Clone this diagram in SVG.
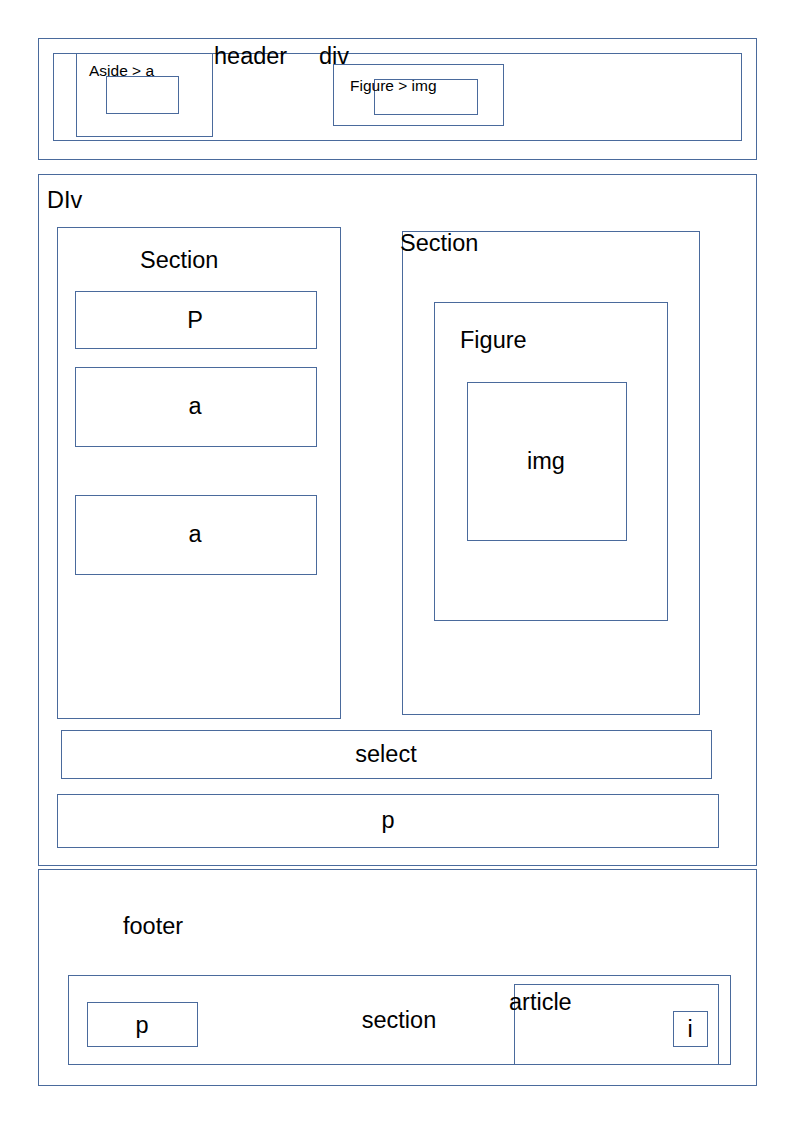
<svg xmlns="http://www.w3.org/2000/svg" width="794" height="1123" viewBox="0 0 794 1123">
<style>
rect{fill:none;stroke:#4a6a9c;stroke-width:1}
text{font-family:"Liberation Sans",Arial,sans-serif;fill:#000;font-size:23.5px}
.s{font-size:15.5px}
.m{text-anchor:middle}
</style>
<rect x="0" y="0" width="794" height="1123" fill="#fff" style="fill:#fff;stroke:none"/>
<g id="header">
<rect x="38.5" y="38.5" width="718" height="121"/>
<rect x="53.5" y="53.5" width="688" height="87"/>
<text x="214" y="64">header</text>
<text x="319" y="64">div</text>
</g>
<g id="aside">
<rect x="76.5" y="53.5" width="136" height="83"/>
<rect x="106.5" y="76.5" width="72" height="37"/>
<text class="s" x="89" y="76">Aside &gt; a</text>
</g>
<g id="header-figure">
<rect x="333.5" y="64.5" width="170" height="61"/>
<rect x="374.5" y="79.5" width="103" height="35"/>
<text class="s" x="350" y="91">Figure &gt; img</text>
</g>
<g id="div">
<rect x="38.5" y="174.5" width="718" height="691"/>
<text x="47" y="208">DIv</text>
</g>
<g id="section-left">
<rect x="57.5" y="227.5" width="283" height="491"/>
<text x="140" y="268">Section</text>
</g>
<g id="p1">
<rect x="75.5" y="291.5" width="241" height="57"/>
<text class="m" x="195" y="328">P</text>
</g>
<g id="a1">
<rect x="75.5" y="367.5" width="241" height="79"/>
<text class="m" x="195" y="414">a</text>
</g>
<g id="a2">
<rect x="75.5" y="495.5" width="241" height="79"/>
<text class="m" x="195" y="542">a</text>
</g>
<g id="section-right">
<rect x="402.5" y="231.5" width="297" height="483"/>
<text x="400" y="251">Section</text>
</g>
<g id="figure">
<rect x="434.5" y="302.5" width="233" height="318"/>
<text x="460" y="348">Figure</text>
</g>
<g id="img">
<rect x="467.5" y="382.5" width="159" height="158"/>
<text class="m" x="546" y="469">img</text>
</g>
<g id="select">
<rect x="61.5" y="730.5" width="650" height="48"/>
<text class="m" x="386" y="762">select</text>
</g>
<g id="p2">
<rect x="57.5" y="794.5" width="661" height="53"/>
<text class="m" x="388" y="828">p</text>
</g>
<g id="footer">
<rect x="38.5" y="869.5" width="718" height="216"/>
<text x="123" y="934">footer</text>
</g>
<g id="footer-section">
<rect x="68.5" y="975.5" width="662" height="89"/>
<text class="m" x="399" y="1028">section</text>
</g>
<g id="footer-p">
<rect x="87.5" y="1002.5" width="110" height="44"/>
<text class="m" x="142" y="1033">p</text>
</g>
<g id="article">
<rect x="514.5" y="984.5" width="204" height="80"/>
<text x="509" y="1010">article</text>
</g>
<g id="i">
<rect x="673.5" y="1011.5" width="34" height="35"/>
<text class="m" x="690" y="1037">i</text>
</g>
<g id="connectors"></g>
</svg>
